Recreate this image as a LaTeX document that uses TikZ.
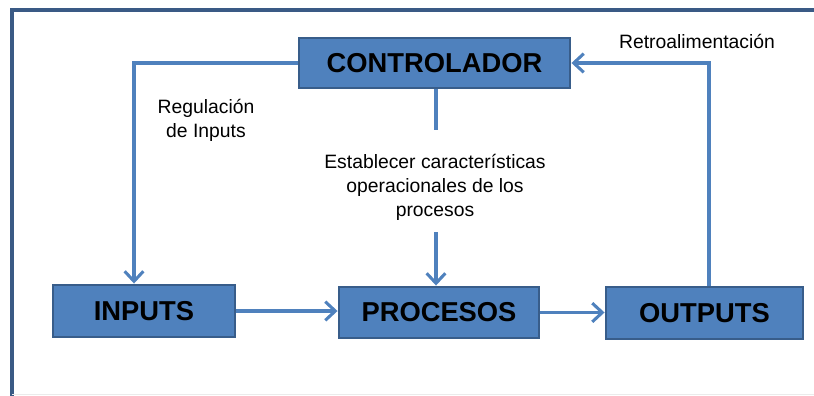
\documentclass[tikz,border=0pt]{standalone}
\usepackage{fontspec}
\setmainfont{Liberation Sans}
\usetikzlibrary{arrows.meta}
\definecolor{boxfill}{HTML}{4F81BD}
\definecolor{boxline}{HTML}{385D8A}
\definecolor{conn}{HTML}{4F81BD}
\definecolor{frame}{HTML}{3A5A85}
\begin{document}
\begin{tikzpicture}[x=0.75pt,y=-0.75pt,
  blockbox/.style={draw=boxline,fill=boxfill,line width=2.2pt,inner sep=0pt,
    font=\bfseries\fontsize{20.5}{24}\selectfont,text=black},
  conn/.style={draw=conn,line width=2.3pt},
  arr/.style={conn,-{Straight Barb[length=7.5pt,width=14pt,line width=2.3pt]}},
  lbl/.style={font=\fontsize{14.5}{18}\selectfont,align=center,inner sep=0pt}]
\useasboundingbox (0,0) rectangle (814,396);
% frame
\draw[frame,line width=2.4pt] (12,396) -- (12,10) -- (814,10);
\draw[black!8,line width=0.8pt] (12,394.5) -- (814,394.5);
% boxes
\node[blockbox,minimum width=271*0.75pt,minimum height=50*0.75pt] (ctrl) at (434.5,63) {CONTROLADOR};
\node[blockbox,minimum width=182*0.75pt,minimum height=52*0.75pt] (in) at (144,311) {INPUTS};
\node[blockbox,minimum width=200*0.75pt,minimum height=51*0.75pt] (proc) at (439,312.5) {PROCESOS};
\node[blockbox,minimum width=197*0.75pt,minimum height=52*0.75pt] (out) at (704.5,313) {OUTPUTS};
% labels
\node[lbl] (retro) at (697,41) {Retroalimentación};
\node[lbl] (reg) at (206,120) {Regulación\\de Inputs};
\node[lbl] (est) at (435,187) {Establecer características\\operacionales de los\\procesos};
\coordinate (c1) at (134,63);
\coordinate (c2) at (709,63);
\coordinate (c3) at (436,130);
\coordinate (c4) at (436,232);
% connectors
\draw[arr] (ctrl.west) -- (c1) -- (in.north -| c1);
\draw[arr] (out.north -| c2) -- (c2) -- (ctrl.east);
\draw[conn] (ctrl.south -| c3) -- (c3);
\draw[arr] (c4) -- (proc.north -| c4);
\draw[arr] (in.east) -- (proc.west |- in.east);
\draw[arr] (proc.east) -- (out.west |- proc.east);
\end{tikzpicture}
\end{document}
